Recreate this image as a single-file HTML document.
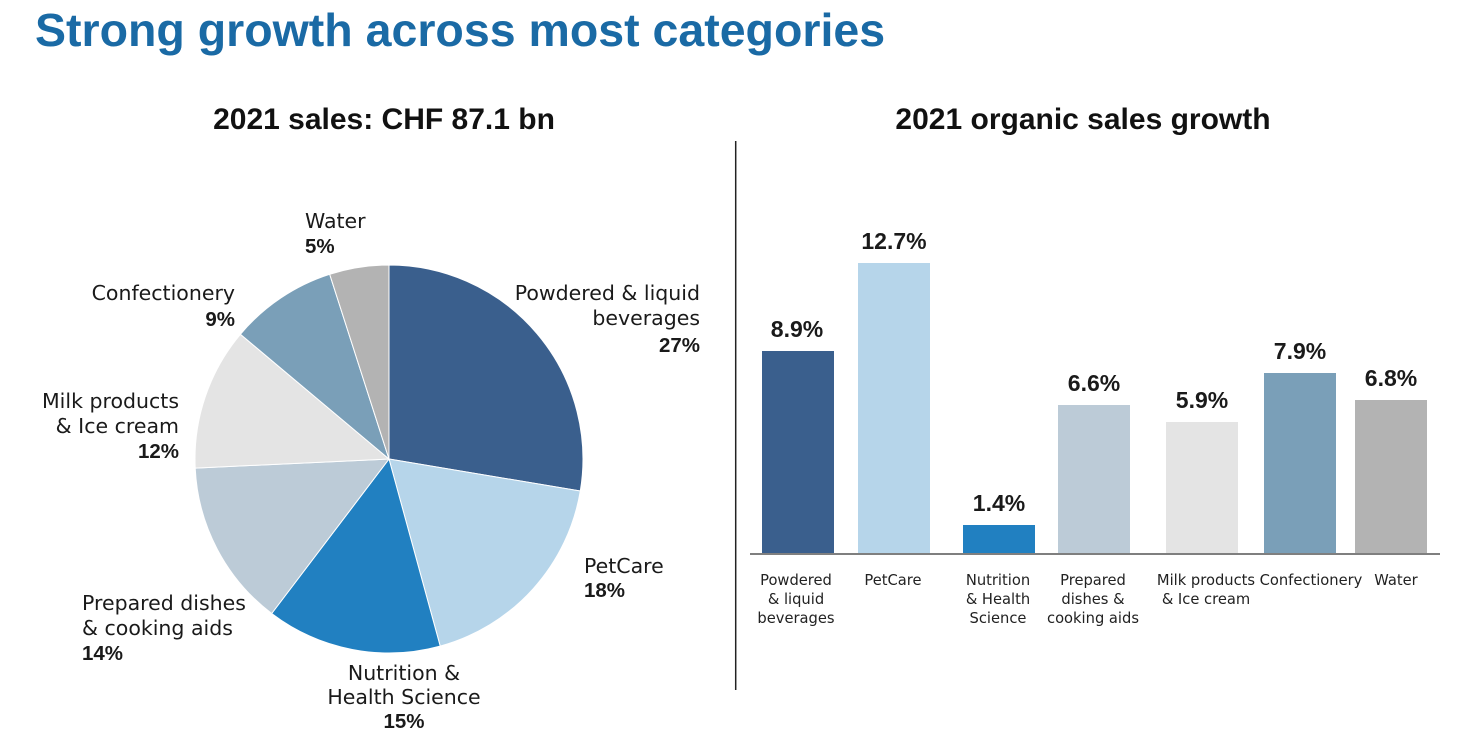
<!DOCTYPE html>
<html>
<head>
<meta charset="utf-8">
<style>
  html, body { margin: 0; padding: 0; background: #ffffff; }
  body { width: 1483px; height: 733px; overflow: hidden; }
  svg { display: block; }
  .lbl { font-family: "DejaVu Sans", "Liberation Sans", sans-serif; font-size: 20.5px; fill: #1a1a1a; }
  .pct { font-family: "Liberation Sans", sans-serif; font-weight: bold; font-size: 20.5px; fill: #1a1a1a; }
  .cat { font-family: "DejaVu Sans", "Liberation Sans", sans-serif; font-size: 14.7px; fill: #222222; }
  .val { font-family: "Liberation Sans", sans-serif; font-weight: bold; font-size: 23px; fill: #1a1a1a; }
  .sub { font-family: "Liberation Sans", sans-serif; font-weight: bold; font-size: 30px; fill: #111111; }
</style>
</head>
<body>
<svg width="1483" height="733" viewBox="0 0 1483 733" xmlns="http://www.w3.org/2000/svg">
  <!-- Main title -->
  <text x="35" y="46" font-family="Liberation Sans, sans-serif" font-weight="bold" font-size="46.5" fill="#1a6aa5">Strong growth across most categories</text>

  <!-- Sub titles -->
  <text x="384" y="129" text-anchor="middle" class="sub">2021 sales: CHF 87.1 bn</text>
  <text x="1083" y="129" text-anchor="middle" class="sub">2021 organic sales growth</text>

  <!-- Divider -->
  <line x1="735.7" y1="141" x2="735.7" y2="690" stroke="#222" stroke-width="1.5"/>

  <!-- Pie -->
  <g stroke="#ffffff" stroke-width="1" stroke-linejoin="round">
    <path d="M389,459 L389,265 A194,194 0 0 1 580.3,491.0 Z" fill="#3a5f8d"/>
    <path d="M389,459 L580.3,491.0 A194,194 0 0 1 440.2,646.1 Z" fill="#b6d5ea"/>
    <path d="M389,459 L440.2,646.1 A194,194 0 0 1 271.7,613.5 Z" fill="#2180c1"/>
    <path d="M389,459 L271.7,613.5 A194,194 0 0 1 195.2,468.1 Z" fill="#bccbd7"/>
    <path d="M389,459 L195.2,468.1 A194,194 0 0 1 240.4,334.3 Z" fill="#e4e4e4"/>
    <path d="M389,459 L240.4,334.3 A194,194 0 0 1 329.7,274.3 Z" fill="#7a9fb8"/>
    <path d="M389,459 L329.7,274.3 A194,194 0 0 1 389,265 Z" fill="#b3b3b3"/>
  </g>

  <!-- Pie labels -->
  <text x="305" y="228" class="lbl">Water</text>
  <text x="305" y="253" class="pct">5%</text>

  <text x="235" y="300" text-anchor="end" class="lbl">Confectionery</text>
  <text x="235" y="326" text-anchor="end" class="pct">9%</text>

  <text x="179" y="408" text-anchor="end" class="lbl">Milk products</text>
  <text x="179" y="433" text-anchor="end" class="lbl">&amp; Ice cream</text>
  <text x="179" y="458" text-anchor="end" class="pct">12%</text>

  <text x="82" y="610" class="lbl">Prepared dishes</text>
  <text x="82" y="635" class="lbl">&amp; cooking aids</text>
  <text x="82" y="660" class="pct">14%</text>

  <text x="404" y="680" text-anchor="middle" class="lbl">Nutrition &amp;</text>
  <text x="404" y="704" text-anchor="middle" class="lbl">Health Science</text>
  <text x="404" y="728" text-anchor="middle" class="pct">15%</text>

  <text x="584" y="573" class="lbl">PetCare</text>
  <text x="584" y="597" class="pct">18%</text>

  <text x="700" y="300" text-anchor="end" class="lbl">Powdered &amp; liquid</text>
  <text x="700" y="325" text-anchor="end" class="lbl">beverages</text>
  <text x="700" y="352" text-anchor="end" class="pct">27%</text>

  <!-- Bars -->
  <rect x="762" y="351" width="72" height="203" fill="#3a5f8d"/>
  <rect x="858" y="263" width="72" height="291" fill="#b6d5ea"/>
  <rect x="963" y="525" width="72" height="29" fill="#2180c1"/>
  <rect x="1058" y="405" width="72" height="149" fill="#bccbd7"/>
  <rect x="1166" y="422" width="72" height="132" fill="#e4e4e4"/>
  <rect x="1264" y="373" width="72" height="181" fill="#7a9fb8"/>
  <rect x="1355" y="400" width="72" height="154" fill="#b3b3b3"/>

  <!-- Axis -->
  <line x1="750" y1="554" x2="1440" y2="554" stroke="#7f7f7f" stroke-width="2"/>

  <!-- Bar values -->
  <text x="797" y="337" text-anchor="middle" class="val">8.9%</text>
  <text x="894" y="249" text-anchor="middle" class="val">12.7%</text>
  <text x="999" y="511" text-anchor="middle" class="val">1.4%</text>
  <text x="1094" y="391" text-anchor="middle" class="val">6.6%</text>
  <text x="1202" y="408" text-anchor="middle" class="val">5.9%</text>
  <text x="1300" y="359" text-anchor="middle" class="val">7.9%</text>
  <text x="1391" y="386" text-anchor="middle" class="val">6.8%</text>

  <!-- Category labels -->
  <text x="796" y="585" text-anchor="middle" class="cat">Powdered</text>
  <text x="796" y="604" text-anchor="middle" class="cat">&amp; liquid</text>
  <text x="796" y="623" text-anchor="middle" class="cat">beverages</text>

  <text x="893" y="585" text-anchor="middle" class="cat">PetCare</text>

  <text x="998" y="585" text-anchor="middle" class="cat">Nutrition</text>
  <text x="998" y="604" text-anchor="middle" class="cat">&amp; Health</text>
  <text x="998" y="623" text-anchor="middle" class="cat">Science</text>

  <text x="1093" y="585" text-anchor="middle" class="cat">Prepared</text>
  <text x="1093" y="604" text-anchor="middle" class="cat">dishes &amp;</text>
  <text x="1093" y="623" text-anchor="middle" class="cat">cooking aids</text>

  <text x="1206" y="585" text-anchor="middle" class="cat">Milk products</text>
  <text x="1206" y="604" text-anchor="middle" class="cat">&amp; Ice cream</text>

  <text x="1311" y="585" text-anchor="middle" class="cat">Confectionery</text>

  <text x="1396" y="585" text-anchor="middle" class="cat">Water</text>
</svg>
</body>
</html>
